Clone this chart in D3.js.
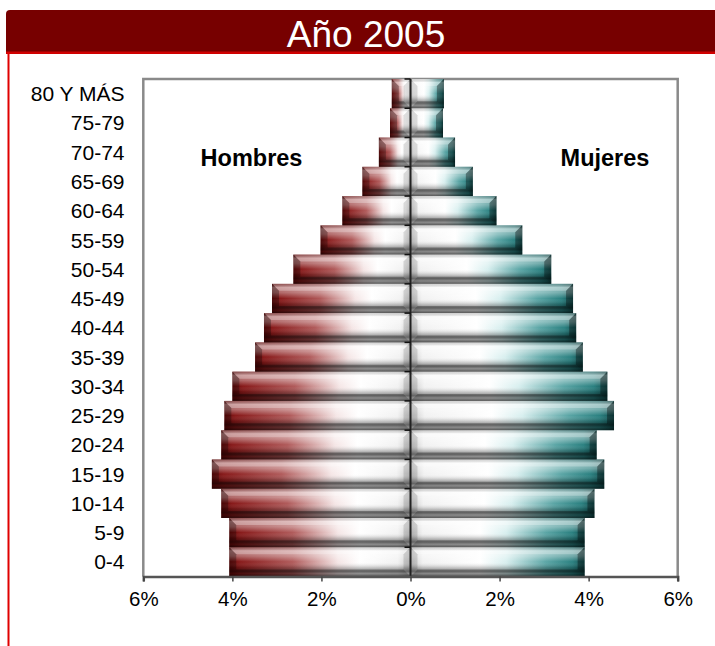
<!DOCTYPE html>
<html><head><meta charset="utf-8">
<script src="https://cdn.jsdelivr.net/npm/d3@7/dist/d3.min.js"></script>
<style>body{margin:0;background:#fff}svg{display:block}text{font-family:"Liberation Sans",Arial,sans-serif}</style>
</head><body><svg id="c" width="715" height="646"></svg>
<script>
const title = "Año 2005";
const categories = ["0-4","5-9","10-14","15-19","20-24","25-29","30-34","35-39","40-44","45-49","50-54","55-59","60-64","65-69","70-74","75-79","80 Y MÁS"];
const hombres = [4.07,4.07,4.25,4.46,4.25,4.18,4.00,3.49,3.29,3.11,2.63,2.02,1.53,1.08,0.71,0.46,0.42];
const mujeres = [3.91,3.91,4.13,4.35,4.18,4.57,4.42,3.87,3.72,3.65,3.16,2.51,1.93,1.40,1.00,0.73,0.75];
const xTicks = [-6,-4,-2,0,2,4,6];
const seriesLabels = ["Hombres","Mujeres"];

const svg = d3.select("#c");
const L = 143.3, R = 677.7, T = 79, B = 576.5;
const x = d3.scaleLinear().domain([-6,6]).range([L,R]);
const y = d3.scaleBand().domain(categories).range([B,T]).padding(0);

const defs = svg.append("defs");
function hgrad(id, stops){
  const g = defs.append("linearGradient").attr("id",id).attr("x1",0).attr("x2",1).attr("y1",0).attr("y2",0);
  stops.forEach(s=>g.append("stop").attr("offset",s[0]).attr("stop-color",s[1]).attr("stop-opacity",s[2]===undefined?1:s[2]));
}
hgrad("gm", [[0,"#660808"],[0.06,"#881a1a"],[0.35,"#b05a5a"],[0.6,"#f5e6e6"],[0.72,"#ffffff"],[0.93,"#f2f2f2"],[1,"#c8c8c8"]]);
hgrad("gf", [[0,"#c8c8c8"],[0.07,"#f2f2f2"],[0.4,"#ffffff"],[0.55,"#d8efef"],[0.78,"#5aa5a5"],[0.93,"#2a8080"],[1,"#124f4f"]]);
const vg = defs.append("linearGradient").attr("id","gv").attr("x1",0).attr("x2",0).attr("y1",0).attr("y2",1);
[[0,"#000",0.2],[0.12,"#fff",0.45],[0.3,"#fff",0.35],[0.5,"#fff",0],[0.68,"#000",0.18],[0.82,"#000",0.45],[0.9,"#000",0.2],[1,"#000",0.5]]
 .forEach(s=>vg.append("stop").attr("offset",s[0]).attr("stop-color",s[1]).attr("stop-opacity",s[2]));

// frame / title bar
svg.append("path").attr("d","M6,52 L6,14 Q6,10 10,10 L715,10 L715,52 Z").attr("fill","#770000");
svg.append("rect").attr("x",6).attr("y",51.5).attr("width",709).attr("height",2.5).attr("fill","#d00000");
svg.append("rect").attr("x",7.5).attr("y",52).attr("width",2).attr("height",594).attr("fill","#e00000");
svg.append("text").attr("x",366).attr("y",47).attr("text-anchor","middle").attr("font-size",37).attr("fill","#fff").text(title);

// plot box
svg.append("path").attr("d",`M${L},${B} L${L},${T} L${R},${T} L${R},${B}`).attr("fill","none").attr("stroke","#8a8a8a").attr("stroke-width",2.5);

const bev = 7;
function drawBar(g, xa, xb, y0, h, grad, outerLeft){
  const x0 = Math.min(xa,xb), x1 = Math.max(xa,xb), y1 = y0 + h;
  g.append("rect").attr("x",x0).attr("y",y0).attr("width",x1-x0).attr("height",h).attr("fill",`url(#${grad})`);
  g.append("rect").attr("x",x0).attr("y",y0).attr("width",x1-x0).attr("height",h).attr("fill","url(#gv)");
  const b = Math.min(bev,(x1-x0)/2);
  g.append("path").attr("d",`M${x0},${y0}L${x1},${y0}L${x1-b},${y0+b}L${x0+b},${y0+b}Z`).attr("fill","#fff").attr("fill-opacity",0.28);
  g.append("path").attr("d",`M${x0},${y1}L${x1},${y1}L${x1-b},${y1-b}L${x0+b},${y1-b}Z`).attr("fill","#000").attr("fill-opacity",0.3);
  g.append("path").attr("d",`M${x0},${y0}L${x0+b},${y0+b}L${x0+b},${y1-b}L${x0},${y1}Z`).attr("fill","#000").attr("fill-opacity",outerLeft?0.28:0.12);
  g.append("path").attr("d",`M${x1},${y0}L${x1-b},${y0+b}L${x1-b},${y1-b}L${x1},${y1}Z`).attr("fill","#000").attr("fill-opacity",outerLeft?0.12:0.35);
}
const bars = svg.append("g");
categories.forEach((c,i)=>{
  drawBar(bars, x(-hombres[i]), x(0), y(c), y.bandwidth(), "gm", true);
  drawBar(bars, x(0), x(mujeres[i]), y(c), y.bandwidth(), "gf", false);
});

// zero axis with ticks
const zx = x(0);
svg.append("line").attr("x1",zx).attr("x2",zx).attr("y1",T).attr("y2",B).attr("stroke","#222").attr("stroke-width",2);
categories.forEach(c=>{
  const yy = y(c);
  svg.append("line").attr("x1",zx-6).attr("x2",zx).attr("y1",yy).attr("y2",yy).attr("stroke","#111").attr("stroke-width",1.5);
});

// bottom axis
const xa = svg.append("g").attr("transform",`translate(0,${B})`)
  .call(d3.axisBottom(x).tickValues(xTicks).tickSize(5).tickPadding(10).tickFormat(d=>Math.abs(d)+"%"));
xa.select(".domain").attr("stroke","#555").attr("stroke-width",2.5);
xa.selectAll(".tick line").attr("stroke","#444").attr("stroke-width",1.5);
xa.selectAll(".tick text").attr("font-size",20.5).attr("fill","#000").attr("font-family","Liberation Sans, Arial, sans-serif");

// category labels
svg.append("g").selectAll("text").data(categories).join("text")
  .attr("x",124.5).attr("y",d=>y(d)+y.bandwidth()/2).attr("dy","0.36em")
  .attr("text-anchor","end").attr("font-size",21).attr("fill","#000").text(d=>d);

// series labels
svg.append("text").attr("x",251.5).attr("y",166).attr("text-anchor","middle").attr("font-size",23.5).attr("font-weight","bold").text(seriesLabels[0]);
svg.append("text").attr("x",605).attr("y",166).attr("text-anchor","middle").attr("font-size",23.5).attr("font-weight","bold").text(seriesLabels[1]);
</script></body></html>
